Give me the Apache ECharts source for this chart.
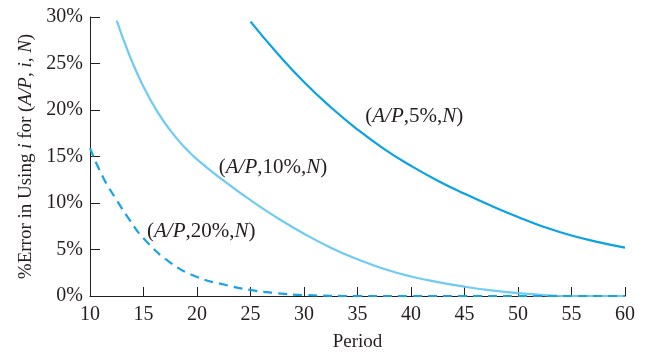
<!DOCTYPE html>
<html><head><meta charset="utf-8">
<script src="https://cdn.jsdelivr.net/npm/echarts@6/dist/echarts.min.js"></script>
<style>html,body{margin:0;padding:0;background:#fff}#c{width:645px;height:357px}</style>
</head><body><div id="c"></div>
<script>
// Values
const periods5 = [25, 27.5, 30, 32.5, 35, 37.5, 40, 42.5, 45, 47.5, 50, 52.5, 55, 57.5, 60];
const error5 = [29.5, 26.1, 23.0, 20.3, 17.9, 15.8, 14.0, 12.4, 11.0, 9.7, 8.5, 7.4, 6.5, 5.8, 5.2];
const periods10 = [12.5, 13.75, 15, 16.25, 17.5, 18.75, 20, 22.5, 25, 27.5, 30, 32.5, 35, 37.5, 40, 42.5, 45, 47.5, 50, 52.5, 55, 57.5, 60];
const error10 = [29.6, 25.7, 22.5, 19.9, 17.8, 16.1, 14.7, 12.4, 10.3, 8.4, 6.7, 5.2, 3.95, 2.9, 2.1, 1.5, 1.0, 0.6, 0.3, 0.1, 0.0, 0.0, 0.0];
const periods20 = [10, 11.25, 12.5, 13.75, 15, 17.5, 20, 22.5, 25, 27.5, 30, 35, 40, 45, 50, 55, 60];
const error20 = [15.9, 12.7, 10.3, 8.1, 6.2, 3.6, 2.05, 1.24, 0.65, 0.3, 0.1, 0.0, 0.0, 0.0, 0.0, 0.0, 0.0];
const xTicks = [10, 15, 20, 25, 30, 35, 40, 45, 50, 55, 60];
const yTicks = [0, 5, 10, 15, 20, 25, 30];
const curveLabels = [
  {name: '5%', x: 40.3, y: 19.3},
  {name: '10%', x: 27.1, y: 13.8},
  {name: '20%', x: 20.4, y: 6.9}
];

const serif = '"Liberation Serif", "DejaVu Serif", serif';
const ink = '#231f20';
const pairs = (xs, ys) => xs.map((x, i) => [x, ys[i]]);
function rich(size) {
  return {
    n: {fontFamily: serif, fontSize: size, color: ink},
    it: {fontFamily: serif, fontSize: size, fontStyle: 'italic', color: ink}
  };
}
function lbl(name) {
  return '{n|(}{it|A/P}{n|,' + name + ',}{it|N}{n|)}';
}
function mp(idx) {
  const c = curveLabels[idx];
  return {
    symbol: 'circle', symbolSize: 1, silent: true,
    itemStyle: {color: 'rgba(0,0,0,0)'},
    data: [{coord: [c.x, c.y]}],
    label: {show: true, position: 'inside', formatter: lbl(c.name), rich: rich(21)}
  };
}

const chart = echarts.init(document.getElementById('c'));
chart.setOption({
  animation: false,
  backgroundColor: '#fff',
  grid: {left: 90, right: 20, top: 17, bottom: 57},
  xAxis: {
    type: 'value', min: 10, max: 60, interval: 5,
    name: 'Period', nameLocation: 'middle', nameGap: 37,
    nameTextStyle: {fontFamily: serif, fontSize: 19, color: ink},
    axisLine: {lineStyle: {color: ink, width: 1}},
    axisTick: {inside: true, length: 9, lineStyle: {color: ink}},
    axisLabel: {fontFamily: serif, fontSize: 20, color: ink, margin: 9,
      formatter: v => xTicks.includes(v) ? String(v) : ''},
    splitLine: {show: false}
  },
  yAxis: {
    type: 'value', min: 0, max: 30, interval: 5,
    name: '{n|%Error in Using }{it|i}{n| for (}{it|A/P}{n|, }{it|i}{n|, }{it|N}{n|)}',
    nameLocation: 'middle', nameGap: 54, nameRotate: 90,
    nameTextStyle: {rich: rich(19)},
    axisLine: {show: true, lineStyle: {color: ink, width: 1}},
    axisTick: {show: true, inside: true, length: 10, lineStyle: {color: ink}},
    axisLabel: {fontFamily: serif, fontSize: 20, color: ink, margin: 7,
      formatter: v => yTicks.includes(v) ? v + '%' : ''},
    splitLine: {show: false}
  },
  series: [
    {type: 'line', data: pairs(periods5, error5), smooth: true, showSymbol: false,
      lineStyle: {color: '#0aa2e2', width: 2.2}, markPoint: mp(0)},
    {type: 'line', data: pairs(periods10, error10), smooth: true, showSymbol: false,
      lineStyle: {color: '#6fcbf1', width: 2.2}, markPoint: mp(1)},
    {type: 'line', data: pairs(periods20, error20), smooth: true, showSymbol: false,
      lineStyle: {color: '#18a4e4', width: 2.2, type: [9, 6]}, markPoint: mp(2)}
  ]
});
</script></body></html>
